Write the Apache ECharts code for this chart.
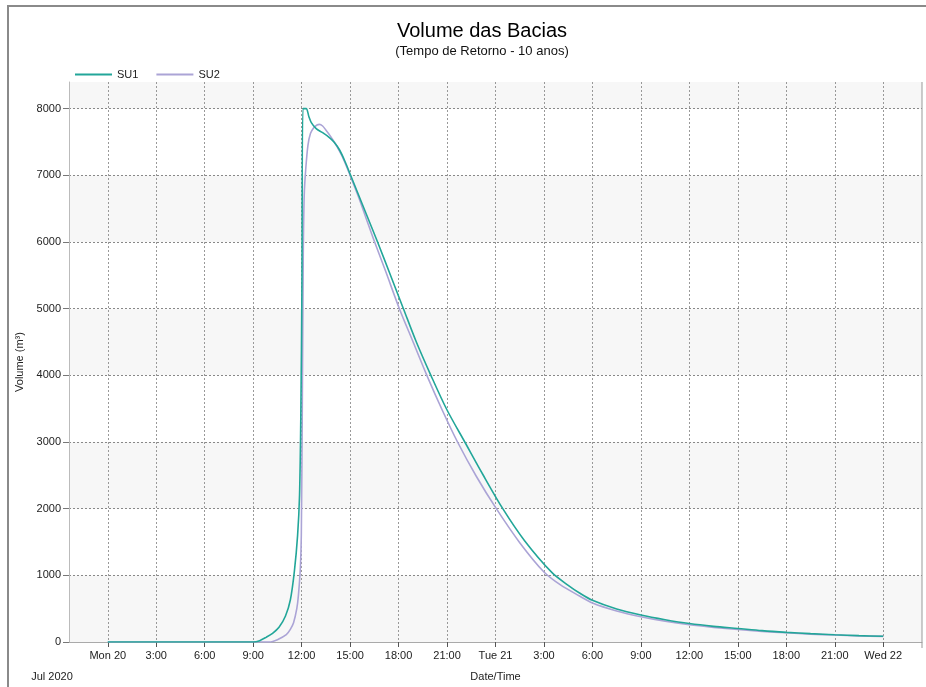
<!DOCTYPE html>
<html>
<head>
<meta charset="utf-8">
<script src="https://cdn.jsdelivr.net/npm/echarts@6/dist/echarts.min.js"></script>
<style>html,body{margin:0;padding:0;background:#fff}#c{width:926px;height:687px}</style>
</head>
<body>
<div id="c"></div>
<script>
// Hours since Mon 20 Jul 2020 00:00
const su1Hours  = [0, 9, 9.4, 9.8, 10.2, 10.6, 11.0, 11.3, 11.55, 11.75, 11.87, 11.95, 12.02, 12.08, 12.28, 12.45, 12.6, 12.9, 13.3, 13.7, 14.0, 14.35, 14.7, 15.0, 15.5, 16.0, 16.7, 17.5, 18.3, 19.1, 20.0, 21.0, 22.1, 23.2, 24.45, 25.8, 27.5, 28.5, 29.2, 30.0, 31.5, 33.0, 34.5, 36.0, 37.5, 39.0, 40.5, 42.0, 43.5, 45.0, 46.5, 48.0];
const su1Values = [0, 0, 20, 70, 130, 220, 390, 630, 1060, 1600, 2200, 3400, 5400, 8000, 8000, 7880, 7790, 7700, 7640, 7570, 7500, 7380, 7200, 7020, 6720, 6420, 6000, 5500, 5000, 4500, 4000, 3480, 3000, 2520, 2000, 1520, 1040, 850, 735, 625, 495, 405, 335, 277, 235, 203, 170, 145, 125, 108, 95, 86];
const su2Hours  = [0, 10.0, 10.5, 11.05, 11.3, 11.5, 11.7, 11.8, 11.92, 11.98, 12.04, 12.1, 12.16, 12.25, 12.39, 12.55, 12.75, 12.95, 13.1, 13.3, 13.5, 13.75, 14.1, 14.5, 15.0, 15.5, 16.0, 16.5, 17.2, 18.05, 18.9, 19.75, 20.7, 21.65, 22.8, 24.05, 25.5, 27.0, 28.0, 29.2, 30.0, 31.5, 33.0, 34.5, 36.0, 37.5, 39.0, 40.5, 42.0, 43.5, 45.0, 46.5, 48.0];
const su2Values = [0, 0, 35, 110, 190, 290, 500, 700, 1110, 1600, 3500, 5800, 6700, 7080, 7450, 7630, 7715, 7755, 7765, 7740, 7680, 7600, 7470, 7290, 7000, 6690, 6350, 6010, 5560, 5000, 4500, 4000, 3480, 3000, 2490, 2000, 1490, 1050, 860, 690, 585, 465, 378, 310, 258, 220, 188, 160, 138, 118, 104, 92, 84];
const xTickHours  = [0, 3, 6, 9, 12, 15, 18, 21, 24, 27, 30, 33, 36, 39, 42, 45, 48];
const xTickLabels = ['Mon 20', '3:00', '6:00', '9:00', '12:00', '15:00', '18:00', '21:00', 'Tue 21', '3:00', '6:00', '9:00', '12:00', '15:00', '18:00', '21:00', 'Wed 22'];
const yLabelValues = [0, 1000, 2000, 3000, 4000, 5000, 6000, 7000, 8000];
const seriesNames = ['SU1', 'SU2'];

const pair = (h, v) => h.map((x, i) => [x, v[i]]);
const chart = echarts.init(document.getElementById('c'));
const font = 'Liberation Sans, Arial, sans-serif';
chart.setOption({
  animation: false,
  textStyle: { fontFamily: font },
  graphic: [
    { type: 'rect', shape: { x: 8, y: 6, width: 1000, height: 800 }, style: { fill: 'none', stroke: '#8a8a8a', lineWidth: 2 }, z: 100 },
    { type: 'text', x: 482, y: 31, style: { text: 'Volume das Bacias', font: '20px ' + font, fill: '#000', textAlign: 'center', textVerticalAlign: 'middle' } },
    { type: 'text', x: 482, y: 51, style: { text: '(Tempo de Retorno - 10 anos)', font: '13px ' + font, fill: '#111', textAlign: 'center', textVerticalAlign: 'middle' } },
    { type: 'text', x: 52, y: 677, style: { text: 'Jul 2020', font: '11px ' + font, fill: '#222', textAlign: 'center', textVerticalAlign: 'middle' } },
    { type: 'line', shape: { x1: 922, y1: 82, x2: 922, y2: 648 }, style: { stroke: '#999', lineWidth: 1 }, z: 50 }
  ],
  legend: {
    data: seriesNames, left: 70, top: 64, icon: 'rect', itemWidth: 37, itemHeight: 2, itemGap: 18,
    textStyle: { fontSize: 11, color: '#222', fontFamily: font }
  },
  grid: { left: 69, right: 4, top: 82, bottom: 39, containLabel: false },
  xAxis: {
    type: 'value', min: -2.4, max: 50.4,
    name: 'Date/Time', nameLocation: 'middle', nameGap: 29,
    nameTextStyle: { fontSize: 11, color: '#222' },
    axisLine: { show: true, onZero: false, lineStyle: { color: '#aaa' } },
    axisTick: { show: true, customValues: xTickHours, length: 5, lineStyle: { color: '#555' } },
    axisLabel: {
      customValues: xTickHours, fontSize: 11, color: '#222', margin: 8,
      formatter: v => xTickLabels[xTickHours.indexOf(v)]
    },
    splitLine: { show: true, lineStyle: { color: '#999', type: [2, 2], width: 1 } }
  },
  yAxis: {
    type: 'value', min: 0, max: 8400, interval: 1000,
    name: 'Volume (m³)', nameLocation: 'middle', nameGap: 41,
    nameTextStyle: { fontSize: 11, color: '#222' },
    axisLine: { show: true, onZero: false, lineStyle: { color: '#bbb' } },
    axisTick: { show: true, length: 6, lineStyle: { color: '#777' } },
    axisLabel: { fontSize: 11, color: '#222', margin: 8, showMaxLabel: false,
      formatter: v => (yLabelValues.indexOf(v) >= 0 ? String(v) : '') },
    splitLine: { show: true, showMaxLine: false, lineStyle: { color: '#888', type: [2, 2], width: 1 } },
    splitArea: { show: true, areaStyle: { color: ['#f7f7f7', '#ffffff'] } }
  },
  series: [
    { name: 'SU1', type: 'line', data: pair(su1Hours, su1Values), showSymbol: false, symbol: 'none',
      smooth: 0.3,
      lineStyle: { color: '#22a699', width: 1.6 }, itemStyle: { color: '#22a699' }, z: 3 },
    { name: 'SU2', type: 'line', data: pair(su2Hours, su2Values), showSymbol: false, symbol: 'none',
      smooth: 0.3,
      lineStyle: { color: '#aba4d6', width: 1.6 }, itemStyle: { color: '#aba4d6' }, z: 2 }
  ]
});
</script>
</body>
</html>
